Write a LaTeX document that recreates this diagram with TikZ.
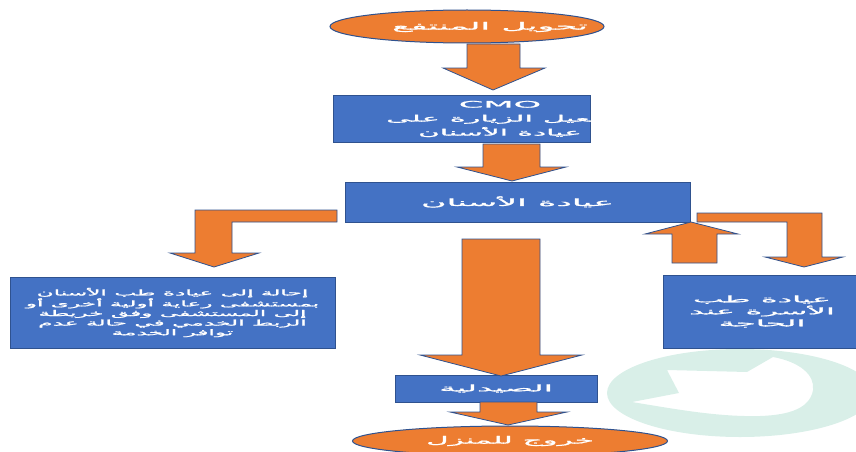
\documentclass[tikz,border=0pt]{standalone}
\usepackage{fontspec}
\usetikzlibrary{shapes.geometric}
\TeXXeTstate=1
\newfontfamily\arabicfont[Script=Arabic,FakeBold=1.2]{DejaVu Sans}
% one right-to-left line, widened by the optional factor
\newcommand\artxt[2][1]{\scalebox{#1}[1]{\beginR #2\endR}}
\definecolor{flowblue}{HTML}{4472C4}
\definecolor{flowedge}{HTML}{2F528F}
\definecolor{floworange}{HTML}{ED7D31}
\definecolor{mint}{HTML}{D9EFE8}

\begin{document}
\begin{tikzpicture}[x=1pt,y=-1pt,
  every node/.style={inner sep=0pt, outer sep=0pt},
  box/.style={rectangle, draw=flowedge, fill=flowblue, line width=1pt,
    text=white, align=center},
  oval/.style={ellipse, draw=flowedge, fill=floworange, line width=1pt,
    text=white, align=center},
  lbl/.style={text=white, align=center},
  fs/.style 2 args={font=\arabicfont\fontsize{#1}{#2}\selectfont},
  blockarrow/.style={draw=flowedge, fill=floworange, line width=0.8pt, line join=miter}]
\useasboundingbox (0,0) rectangle (856,452);

% faint circular-arrow mark in the lower right corner
\fill[mint, even odd rule] (740,393) ellipse [x radius=133pt, y radius=44pt]
  (667,370) -- (747,372) -- (773,357)
  .. controls (800,362) and (815,375) .. (813,390)
  .. controls (810,408) and (790,415) .. (760,416)
  .. controls (720,417) and (680,410) .. (632,402)
  -- (679,393) -- cycle;

% boxes and ovals
\node[oval, minimum width=274pt, minimum height=33pt] (start) at (467,26.5) {};
\node[lbl, fs={10}{12}] (starttext) at (490,27) {\artxt[3.5]{تحويل المنتفع}};

\node[box, minimum width=257pt, minimum height=47pt] (cmo) at (461.5,118.5) {};
\node[lbl, fs={9}{14}] (cmotext) at (500,119)
  {\scalebox{3.9}[1]{CMO}\\ \artxt[3.4]{تفعيل الزيارة على}\\ \artxt[3.3]{عيادة الأسنان}};

\node[box, fs={10}{12}, minimum width=345pt, minimum height=40pt] (clinic) at (517.5,202)
  {\artxt[3.5]{عيادة الأسنان}};
\node[box, fs={8}{9.6}, minimum width=325pt, minimum height=71pt] (referral) at (172.5,312.5)
  {\artxt[2.9]{إحالة إلى عيادة طب الأسنان}\\
   \artxt[2.9]{بمستشفى رعاية أولية أخرى أو}\\
   \artxt[2.9]{إلى المستشفى وفق خريطة}\\
   \artxt[2.9]{الربط الخدمي في حالة عدم}\\
   \artxt[2.9]{توافر الخدمة}};
\node[box, fs={9}{12}, minimum width=198pt, minimum height=73pt] (family) at (762,311.5)
  {\artxt[3.6]{عيادة طب}\\ \artxt[3.6]{الأسرة عند}\\ \artxt[3.6]{الحاجة}};
\node[box, fs={9}{11}, minimum width=202pt, minimum height=27pt] (pharmacy) at (496,388.5)
  {\artxt[3.7]{الصيدلية}};
\node[oval, fs={10}{12}, minimum width=315pt, minimum height=30pt] (finish) at (510,441)
  {\artxt[3.1]{خروج للمنزل}};

% block arrows
\draw[blockarrow] (467,44) -- (520,44) -- (520,68) -- (545,68) -- (493,90)
  -- (443,68) -- (467,68) -- cycle;
\draw[blockarrow] (483,144) -- (540,144) -- (540,167) -- (566,167) -- (512,181)
  -- (457,167) -- (483,167) -- cycle;
\draw[blockarrow] (462,239) -- (540,239) -- (540,355) -- (582,355) -- (501,376)
  -- (420,355) -- (462,355) -- cycle;
\draw[blockarrow] (480,402) -- (537,402) -- (537,412) -- (567,412) -- (508,425)
  -- (450,412) -- (480,412) -- cycle;
\draw[blockarrow] (337,210) -- (195,210) -- (195,253) -- (170,253) -- (214,267)
  -- (259,253) -- (232,253) -- (232,222) -- (337,222) -- cycle;
\draw[blockarrow] (697,213) -- (822,213) -- (822,257) -- (843,257) -- (804,267)
  -- (765,257) -- (787,257) -- (787,222) -- (697,222) -- cycle;
\draw[blockarrow] (691,222) -- (738,234) -- (717,234) -- (717,263) -- (672,263)
  -- (672,234) -- (645,234) -- cycle;
\end{tikzpicture}
\end{document}
